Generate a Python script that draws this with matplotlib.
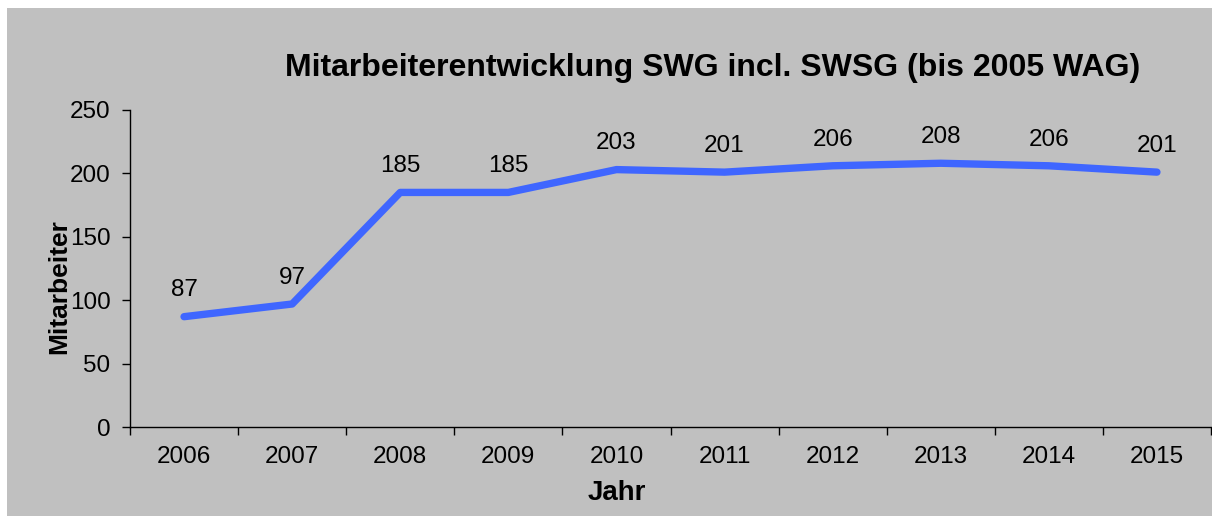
import matplotlib.pyplot as plt
from matplotlib.patches import Rectangle
import numpy as np

years = ['2006', '2007', '2008', '2009', '2010', '2011', '2012', '2013', '2014', '2015']
mitarbeiter = [87, 97, 185, 185, 203, 201, 206, 208, 206, 201]

plt.rcParams['font.family'] = ['Liberation Sans', 'DejaVu Sans']

fig = plt.figure(figsize=(12.12, 5.16), dpi=100, facecolor='white')
# grey chart area, white strip at top and left
fig.patches.append(Rectangle((7 / 1212, 0), 1, 1 - 8 / 516, transform=fig.transFigure,
                             facecolor='#c0c0c0', edgecolor='none', zorder=-10))

ax = fig.add_axes([130 / 1212, 1 - 427 / 516, 1081 / 1212, 317 / 516])
ax.set_facecolor('none')
ax.set_zorder(1)

x = np.arange(len(years))
ax.plot(x, mitarbeiter, color='#3f66ff', lw=5.3, solid_capstyle='round', solid_joinstyle='round')
for xi, v in zip(x, mitarbeiter):
    ax.annotate(str(v), (xi, v), xytext=(0, 11), textcoords='offset points',
                ha='center', va='bottom', fontsize=17.5)

ax.set_xlim(-0.5, len(years) - 0.5)
ax.set_ylim(0, 250)
ax.set_yticks([0, 50, 100, 150, 200, 250])
ax.set_xticks(x)
ax.set_xticklabels(years)
ax.set_xticks(np.arange(-0.5, len(years)), minor=True)
ax.tick_params(axis='x', which='major', length=0, pad=14, labelsize=17.5)
ax.tick_params(axis='x', which='minor', length=6, width=1, direction='out')
ax.tick_params(axis='y', length=6, width=1, direction='out', pad=8, labelsize=17.5)

for s in ['top', 'right']:
    ax.spines[s].set_visible(False)
for s in ['left', 'bottom']:
    ax.spines[s].set_linewidth(1)

ax.set_xlabel('Jahr', fontsize=20, fontweight='bold', va='center')
ax.xaxis.set_label_coords((617 - 130) / 1081, (427 - 493) / 317)
ax.set_ylabel('Mitarbeiter', fontsize=19, fontweight='bold', va='center')
ax.yaxis.set_label_coords((59 - 130) / 1081, (427 - 287) / 317)

fig.text(713 / 1212, 1 - 68 / 516, 'Mitarbeiterentwicklung SWG incl. SWSG (bis 2005 WAG)',
         ha='center', va='center', fontsize=23, fontweight='bold')

fig.savefig('out.png', dpi=100)
